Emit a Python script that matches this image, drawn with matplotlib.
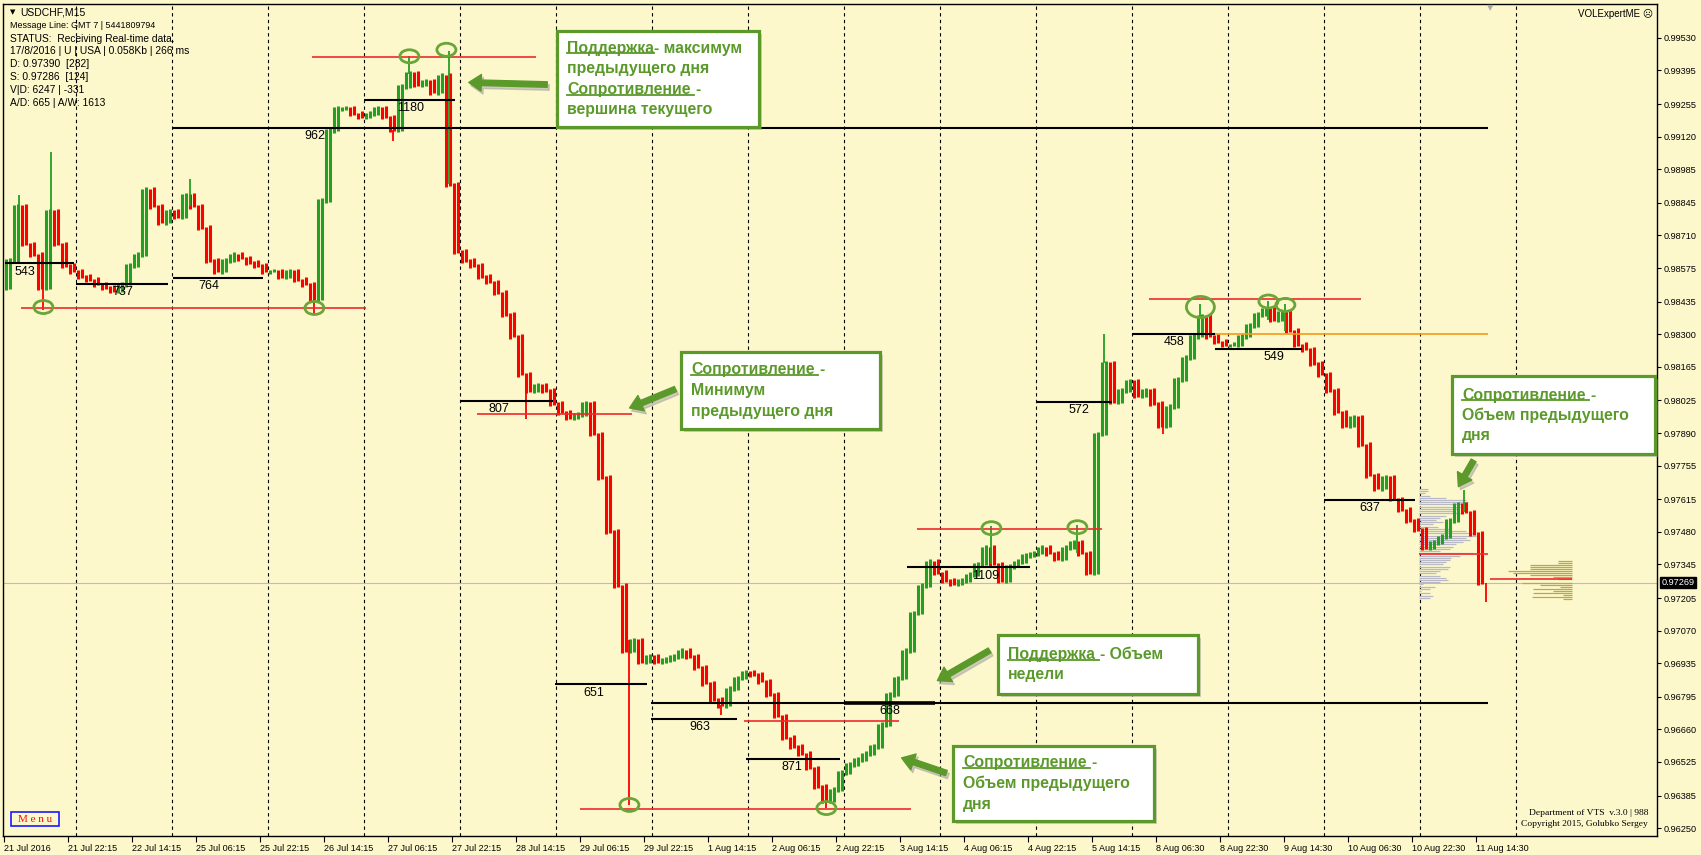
import numpy as np
import matplotlib
matplotlib.use("Agg")
import matplotlib.pyplot as plt
from matplotlib.patches import Rectangle, Ellipse, FancyArrowPatch
from matplotlib.lines import Line2D

plt.rcParams['font.family'] = ['Liberation Sans', 'DejaVu Sans']

W, H = 1701, 855
BG = "#fdf8cc"
UP = "#23a023"
DOWN = "#ff0000"
NOTE = "#5b9a2a"

# USDCHF M15 - close of every 2 hours (8 bars), one list per trading day
first_open = 0.98494
jul21 = [0.98607, 0.98832, 0.98675, 0.98630, 0.98494, 0.98810, 0.98675, 0.98585, 0.98562]
jul22 = [0.98540, 0.98526, 0.98508, 0.98494, 0.98481, 0.98508, 0.98585, 0.98630, 0.98900, 0.98832, 0.98765, 0.98810]
jul25 = [0.98787, 0.98877, 0.98832, 0.98742, 0.98607, 0.98562, 0.98607, 0.98630, 0.98616, 0.98598, 0.98585, 0.98562]
jul26 = [0.98562, 0.98540, 0.98562, 0.98526, 0.98508, 0.98449, 0.98855, 0.99147, 0.99238, 0.99238, 0.99215, 0.99202]
jul27 = [0.99215, 0.99238, 0.99202, 0.99148, 0.99328, 0.99382, 0.99337, 0.99350, 0.99305, 0.99373, 0.98922, 0.98643]
jul28 = [0.98607, 0.98585, 0.98540, 0.98517, 0.98472, 0.98382, 0.98292, 0.98134, 0.98067, 0.98089, 0.98067, 0.98013]
jul29 = [0.97976, 0.97954, 0.97967, 0.98013, 0.97886, 0.97706, 0.97481, 0.97256, 0.96986, 0.97031, 0.96941, 0.96963]
aug01 = [0.96941, 0.96950, 0.96963, 0.96986, 0.96963, 0.96918, 0.96851, 0.96783, 0.96760, 0.96828, 0.96873, 0.96896]
aug02 = [0.96887, 0.96860, 0.96805, 0.96715, 0.96625, 0.96589, 0.96558, 0.96499, 0.96423, 0.96364, 0.96409, 0.96481]
aug03 = [0.96513, 0.96535, 0.96558, 0.96589, 0.96679, 0.96805, 0.96873, 0.96986, 0.97143, 0.97256, 0.97355, 0.97310]
aug04 = [0.97278, 0.97265, 0.97278, 0.97301, 0.97346, 0.97413, 0.97346, 0.97278, 0.97337, 0.97355, 0.97382, 0.97391]
aug05 = [0.97413, 0.97391, 0.97368, 0.97413, 0.97436, 0.97391, 0.97310, 0.97886, 0.98179, 0.98021, 0.98067, 0.98103]
aug08 = [0.98044, 0.98067, 0.98013, 0.97922, 0.97999, 0.98112, 0.98202, 0.98292, 0.98373, 0.98292, 0.98269, 0.98256]
aug09 = [0.98256, 0.98292, 0.98337, 0.98382, 0.98404, 0.98359, 0.98391, 0.98314, 0.98256, 0.98238, 0.98179, 0.98134]
aug10 = [0.98067, 0.97976, 0.97922, 0.97954, 0.97841, 0.97715, 0.97661, 0.97706, 0.97616, 0.97571, 0.97526, 0.97490]
aug11 = [0.97413, 0.97436, 0.97459, 0.97526, 0.97594, 0.97562, 0.97472, 0.97269]

# single-bar spikes (bar index, extreme price)
wick_bar = [15, 39, 47, 186, 310, 389, 405, 445, 522, 625, 717, 822, 987, 1073, 1100, 1159, 1196, 1264, 1281, 1460, 1482]
wick_price = [0.98877, 0.98400, 0.99057, 0.98945, 0.98382, 0.99102, 0.99454, 0.99476, 0.97949, 0.96346, 0.96720,
              0.96333, 0.97504, 0.97508, 0.98301, 0.97886, 0.98427, 0.98436, 0.98427, 0.97652, 0.97188]

# daily volume levels (black)
lvl_price = [0.98594, 0.98508, 0.98535, 0.99157, 0.99274, 0.98022, 0.96846, 0.96702, 0.96769, 0.96769,
             0.96535, 0.97332, 0.98017, 0.98301, 0.98238, 0.97612]
lvl_start = [1, 72, 169, 169, 360, 456, 551, 647, 647, 840, 742, 903, 1032, 1128, 1211, 1320]
lvl_end = [70, 164, 259, 1484, 451, 549, 643, 733, 1484, 931, 836, 1026, 1108, 1211, 1298, 1411]
lvl_text = ['543', '737', '764', '962', '1180', '807', '651', '963', '', '668', '871', '1109', '572', '458', '549', '637']
lvl_text_bar = [20, 118, 204, 310, 406, 495, 589, 695, 0, 885, 788, 981, 1075, 1170, 1270, 1365]

# support / resistance (red) and orange level
red_price = [0.98409, 0.99449, 0.97967, 0.96328, 0.96693, 0.97490, 0.98445, 0.97388, 0.97283]
red_start = [17, 308, 473, 576, 740, 913, 1145, 1415, 1486]
red_end = [362, 532, 628, 907, 895, 1098, 1357, 1484, 1568]
orange_level = (0.98301, 1211, 1484)

# marked extremes (green circles)
mark_bar = [39, 310, 405, 442, 625, 822, 987, 1073, 1196, 1264, 1281]
mark_price = [0.98413, 0.98409, 0.99454, 0.99481, 0.96346, 0.96333, 0.97495, 0.97499, 0.98413, 0.98436, 0.98422]

# volume profiles
gray_vol = [9, 9, 6, 11, 27, 47, 49, 46, 41, 39, 36, 41, 27, 21, 17, 24, 14, 19, 32, 47, 54, 57, 47, 51, 44,
            37, 34, 31, 21, 54, 41, 32, 31, 27, 24, 31, 29, 21, 17, 21, 27, 29, 21, 4, 16, 11, 2, 11, 14, 11]
gray_top, gray_bottom, gray_start = 0.97658, 0.97206, 1415
olive_vol = [14, 14, 42, 42, 42, 64, 59, 42, 19, 14, 0, 50, 32, 12, 39, 19, 39, 9, 40, 9]
olive_top, olive_bottom, olive_end = 0.97359, 0.97200, 1568

last_price = 0.97269

y_ticks = [0.99530, 0.99395, 0.99255, 0.99120, 0.98985, 0.98845, 0.98710, 0.98575, 0.98435, 0.98300,
           0.98165, 0.98025, 0.97890, 0.97755, 0.97615, 0.97480, 0.97345, 0.97205, 0.97070, 0.96935,
           0.96795, 0.96660, 0.96525, 0.96385, 0.96250]
x_labels = ['21 Jul 2016', '21 Jul 22:15', '22 Jul 14:15', '25 Jul 06:15', '25 Jul 22:15', '26 Jul 14:15',
            '27 Jul 06:15', '27 Jul 22:15', '28 Jul 14:15', '29 Jul 06:15', '29 Jul 22:15', '1 Aug 14:15',
            '2 Aug 06:15', '2 Aug 22:15', '3 Aug 14:15', '4 Aug 06:15', '4 Aug 22:15', '5 Aug 14:15',
            '8 Aug 06:30', '8 Aug 22:30', '9 Aug 14:30', '10 Aug 06:30', '10 Aug 22:30', '11 Aug 14:30']

days = [jul21, jul22, jul25, jul26, jul27, jul28, jul29, aug01, aug02, aug03, aug04, aug05, aug08, aug09, aug10, aug11]
closes = np.concatenate(days)
opens = np.concatenate([[first_open], closes[:-1]])
xb = np.arange(len(closes)) * 8 + 4
day_len = [len(d) * 8 for d in days]
separators = list(np.cumsum(day_len)[:-1]) + [int(np.sum(day_len[:-1])) + 96]


def fx(x):
    return x / W


def fy(y):
    return 1 - y / H


fig = plt.figure(figsize=(W / 100, H / 100), dpi=100, facecolor=BG)
ax = fig.add_axes([fx(3), fy(836), fx(1657) - fx(3), fy(4) - fy(836)])
ax.set_facecolor(BG)
ax.set_xlim(-1.4, 1652.6)
ax.set_ylim(0.96217, 0.99671)

for s in separators:
    ax.axvline(s, color='black', lw=0.8, ls=(0, (3, 3)), zorder=1)

ax.axhline(last_price, color='#bcbcbc', lw=0.8, zorder=1)

# price bars: one block per 2 hours, open -> close, with a little room for the wicks
pad = 0.0001
lo = np.minimum(opens, closes) - pad
hi = np.maximum(opens, closes) + pad
cols = np.where(closes >= opens, UP, DOWN)
ax.vlines(xb - 2, lo, hi - pad * 0.5, colors=cols, lw=2.2, zorder=4)
ax.vlines(xb + 1.5, lo + pad * 0.5, hi, colors=cols, lw=2.2, zorder=4)
for b, p in zip(wick_bar, wick_price):
    k = min(b // 8, len(closes) - 1)
    base = closes[k]
    ax.vlines(b, min(base, p), max(base, p), color=UP if p > base else DOWN, lw=1.3, zorder=4)

# volume profiles
g_lv = np.linspace(gray_top, gray_bottom, len(gray_vol))
ax.hlines(g_lv, gray_start, gray_start + np.array(gray_vol), color='#b9b9c6', lw=0.9, zorder=3)
o_lv = np.linspace(olive_top, olive_bottom, len(olive_vol))
ov = np.array(olive_vol)
ax.hlines(o_lv[ov > 0], olive_end - ov[ov > 0], olive_end, color='#b5aa4c', lw=0.9, zorder=3)

# levels
for p, a, b, t, tb in zip(lvl_price, lvl_start, lvl_end, lvl_text, lvl_text_bar):
    ax.hlines(p, a, b, color='black', lw=2.6 if t == '668' else 1.5, zorder=5)
    if t:
        ax.annotate(t, (tb, p), xytext=(0, -1.5), textcoords='offset points', ha='center', va='top',
                    fontsize=9, zorder=6)
for p, a, b in zip(red_price, red_start, red_end):
    ax.hlines(p, a, b, color='#ee2a2a', lw=1.2, zorder=5)
ax.hlines(orange_level[0], orange_level[1], orange_level[2], color='#f39a1b', lw=1.2, zorder=5)

for i, (b, p) in enumerate(zip(mark_bar, mark_price)):
    big = i == 8
    ax.add_patch(Ellipse((b, p), 28 if big else 19, 0.00088 if big else 0.00054, fill=False,
                         ec='#6aa637', lw=2, zorder=7))

# axes
ax.yaxis.tick_right()
ax.set_yticks(y_ticks)
ax.set_yticklabels(['%.5f' % v for v in y_ticks])
ax.set_xticks(np.arange(len(x_labels)) * 64)
ax.set_xticklabels(x_labels)
for t in ax.get_xticklabels():
    t.set_ha('left')
ax.tick_params(axis='y', direction='out', length=3, width=0.8, labelsize=6.6, pad=1.5)
ax.tick_params(axis='x', direction='out', length=4, width=0.8, labelsize=6.5, pad=1.5)
for sp in ax.spines.values():
    sp.set_linewidth(1)
ax.annotate('%.5f' % last_price, xy=(1, last_price), xycoords=('axes fraction', 'data'), xytext=(3, 0),
            textcoords='offset points', va='center', ha='left', fontsize=6.6, color='white',
            bbox=dict(boxstyle='square,pad=0.15', fc='black', ec='black'))

# info text
fig.text(fx(10), fy(12.3), '▼', fontsize=5, va='center', family='DejaVu Sans')
fig.text(fx(20.5), fy(12.3), 'USDCHF,M15', fontsize=7.5, va='center')
fig.text(fx(9.5), fy(25.7), 'Message Line: GMT 7 | 5441809794', fontsize=6.4, va='center')
info = ['STATUS:  Receiving Real-time data.', '17/8/2016 | U | USA | 0.058Kb | 266 ms',
        'D: 0.97390  [282]', 'S: 0.97286  [124]', 'V|D: 6247 | -331', 'A/D: 665 | A/W: 1613']
for i, s in enumerate(info):
    fig.text(fx(9.5), fy(38.5 + 12.9 * i), s, fontsize=7.4, va='center')
fig.text(fx(1653), fy(14), 'VOLExpertME ☹', fontsize=7, ha='right', va='center')
fig.text(fx(1648), fy(813), 'Department of VTS  v.3.0 | 988', fontsize=6.8, ha='right', va='center',
         family='Liberation Serif')
fig.text(fx(1648), fy(824), 'Copyright 2015, Golubko Sergey', fontsize=6.8, ha='right', va='center',
         family='Liberation Serif')
fig.text(fx(35), fy(819), 'M e n u', fontsize=8, ha='center', va='center', color='#ee1111',
         family='Liberation Serif')
fig.patches.append(Rectangle((fx(11), fy(826)), fx(48), fy(812) - fy(826), transform=fig.transFigure,
                             fill=False, ec='#1a1aff', lw=1.2))
fig.text(fx(1490), fy(3), '▼', fontsize=6, ha='center', va='top', color='#aaaaaa', family='DejaVu Sans')

# notes: x, y, w, h (pixels), line step, lines
notes = [
    (557, 31, 202, 96, 20.6, [[('Поддержка', True), ('- максимум', False)], [('предыдущего дня', False)],
                              [('Сопротивление ', True), ('-', False)], [('вершина текущего', False)]]),
    (681, 352, 199, 77, 20.6, [[('Сопротивление ', True), ('-', False)], [('Минимум', False)],
                               [('предыдущего дня', False)]]),
    (1452, 376, 203, 78, 20.0, [[('Сопротивление ', True), ('-', False)], [('Объем предыдущего', False)],
                                [('дня', False)]]),
    (998, 635, 200, 59, 20.6, [[('Поддержка ', True), ('- Объем', False)], [('недели', False)]]),
    (953, 746, 201, 75, 20.6, [[('Сопротивление ', True), ('-', False)], [('Объем предыдущего', False)],
                               [('дня', False)]]),
]
arrows = [((550, 84.6), (466, 82.4)), ((678, 388), (627, 409)), ((1475, 458), (1457, 489)),
          ((992, 649), (935, 682)), ((949, 774), (899, 757))]

style = 'simple,head_length=0.75,head_width=1.0,tail_width=0.33'
for (x0, y0), (x1, y1) in arrows:
    fig.patches.append(FancyArrowPatch((fx(x0 + 2), fy(y0 + 3)), (fx(x1 + 2), fy(y1 + 3)),
                                       transform=fig.transFigure, arrowstyle=style,
                                       mutation_scale=12, color='#a0a0a0', alpha=0.5, zorder=8))
    fig.patches.append(FancyArrowPatch((fx(x0), fy(y0)), (fx(x1), fy(y1)), transform=fig.transFigure,
                                       arrowstyle=style, mutation_scale=12, color=NOTE, zorder=9))

pending, under = [], []
for x0, y0, w, h, step, lines in notes:
    fig.patches.append(Rectangle((fx(x0 + 3), fy(y0 + h + 3)), fx(w), fy(0) - fy(h), transform=fig.transFigure,
                                 fc='#9a9a9a', ec='none', alpha=0.45, zorder=8))
    fig.patches.append(Rectangle((fx(x0), fy(y0 + h)), fx(w), fy(0) - fy(h), transform=fig.transFigure,
                                 fc='white', ec=NOTE, lw=2.3, zorder=9))
    top = y0 + (h - step * (len(lines) - 1)) / 2
    for i, parts in enumerate(lines):
        yy = fy(top + step * i)
        s, u = parts[0]
        t = fig.text(fx(x0 + 10), yy, s.rstrip(), fontsize=11.4, fontweight='bold', color=NOTE, va='center',
                     zorder=10)
        gap = 4.5 if s.endswith(' ') else 0
        if u:
            under.append((t, gap))
        if len(parts) > 1:
            pending.append((t, gap, yy, parts[1][0]))

fig.canvas.draw()
r = fig.canvas.get_renderer()
for t, gap, yy, s in pending:
    bb = t.get_window_extent(r)
    fig.text((bb.x1 + gap) / W, yy, s, fontsize=11.4, fontweight='bold', color=NOTE, va='center', zorder=10)
for t, gap in under:
    bb = t.get_window_extent(r)
    yl = (bb.y0 + 2.2) / H
    fig.lines.append(Line2D([bb.x0 / W, (bb.x1 + gap * 0.8) / W], [yl, yl], transform=fig.transFigure,
                            color=NOTE, lw=1.3, zorder=10))

fig.savefig("out.png", dpi=100, facecolor=BG)
